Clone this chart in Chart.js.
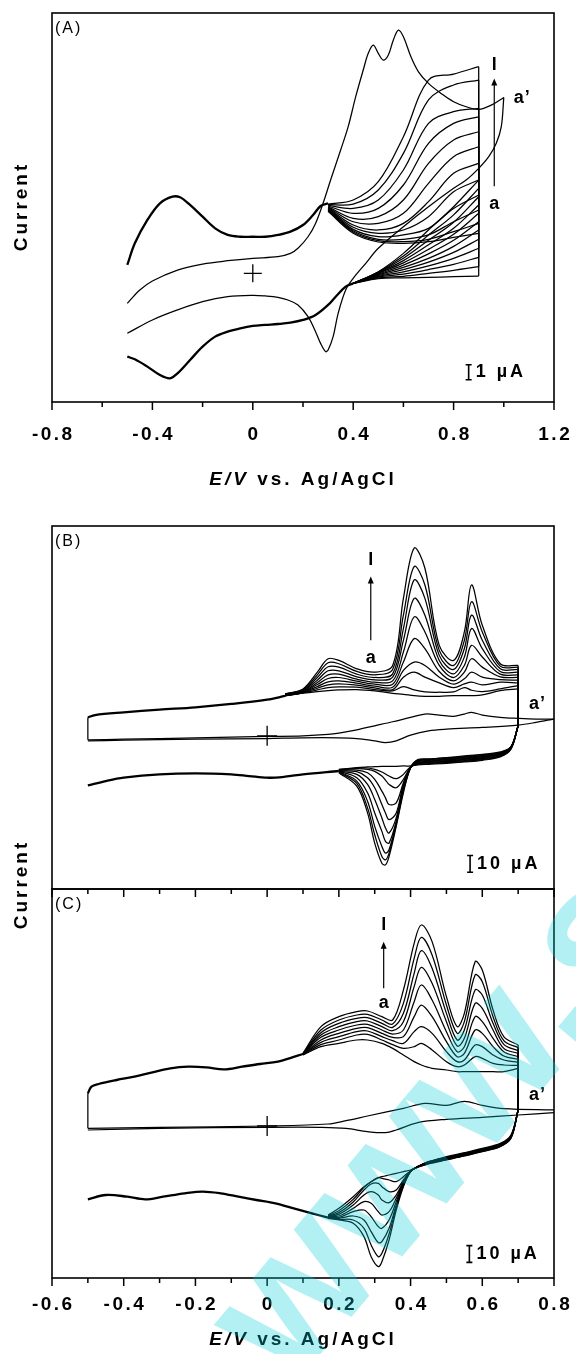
<!DOCTYPE html>
<html>
<head>
<meta charset="utf-8">
<script src="https://cdn.jsdelivr.net/npm/chart.js@4.4.1/dist/chart.umd.min.js"></script>
<style>
  body { margin: 0; background: #fff; }
  #page { position: relative; width: 576px; height: 1354px; overflow: hidden; background: #fff; }
  canvas { position: absolute; left: 0; }
</style>
</head>
<body>
<div id="page">
  <canvas id="chartA" width="576" height="490" style="top:0"></canvas>
  <canvas id="chartB" width="576" height="480" style="top:480px"></canvas>
  <canvas id="chartC" width="576" height="524" style="top:830px"></canvas>
</div>
<script>
// ---------- Panel A (E in V, current in µA) ----------
const aTickLabels = [-0.8, -0.4, 0, 0.4, 0.8, 1.2];
const aUpperV = [-0.5, -0.47, -0.42, -0.37, -0.32, -0.29, -0.25, -0.2, -0.15, -0.1, -0.05, 0, 0.05, 0.1, 0.15, 0.2, 0.24, 0.27, 0.3];
const aUpperI = [0.56, 2.0, 3.56, 4.67, 5.11, 5.07, 4.56, 3.78, 3.0, 2.56, 2.44, 2.44, 2.44, 2.56, 2.78, 3.22, 3.89, 4.49, 4.67];
const aFanV = [0.3, 0.4, 0.5, 0.6, 0.7, 0.8, 0.9];
// cycles a -> l, anodic scan
const aFanFwdI = [
  [4.13, 2.67, 2.09, 2.0, 2.11, 2.4, 2.67],
  [4.18, 2.76, 2.18, 2.11, 2.27, 2.78, 3.33],
  [4.22, 2.84, 2.27, 2.27, 2.56, 3.44, 4.22],
  [4.27, 2.93, 2.44, 2.56, 3.0, 4.33, 5.22],
  [4.31, 3.07, 2.67, 2.89, 3.78, 5.44, 6.22],
  [4.36, 3.22, 2.89, 3.33, 4.78, 6.67, 7.33],
  [4.4, 3.44, 3.33, 4.0, 6.0, 7.78, 8.44],
  [4.44, 3.67, 3.78, 4.89, 7.33, 8.89, 9.44],
  [4.49, 4.0, 4.33, 5.89, 8.67, 10.0, 10.44],
  [4.53, 4.33, 4.89, 6.89, 10.0, 10.78, 11.0],
  [4.58, 4.62, 5.56, 8.0, 11.56, 12.56, 12.89],
  [4.62, 4.89, 6.11, 9.11, 12.89, 13.29, 13.78]
];
const aFanRevV = [0.9, 0.8, 0.7, 0.6, 0.5, 0.4];
// cycles a -> l, cathodic scan
const aFanRevI = [
  [-0.18, -0.22, -0.27, -0.3, -0.35, -0.67],
  [0.44, 0.2, 0.0, -0.2, -0.3, -0.67],
  [1.07, 0.6, 0.25, -0.05, -0.25, -0.67],
  [1.67, 1.0, 0.5, 0.1, -0.2, -0.67],
  [2.27, 1.4, 0.75, 0.25, -0.15, -0.67],
  [2.89, 1.8, 1.0, 0.4, -0.1, -0.67],
  [3.44, 2.2, 1.3, 0.55, -0.05, -0.67],
  [4.0, 2.6, 1.6, 0.7, 0.0, -0.67],
  [4.56, 3.0, 1.9, 0.85, 0.03, -0.67],
  [5.11, 3.4, 2.2, 1.0, 0.06, -0.67],
  [5.67, 3.9, 2.55, 1.15, 0.09, -0.67],
  [6.22, 4.44, 2.89, 1.33, 0.11, -0.67]
];
const aLowerV = [0.4, 0.37, 0.33, 0.3, 0.25, 0.2, 0.15, 0.1, 0.05, 0, -0.05, -0.1, -0.15, -0.2, -0.25, -0.3, -0.33, -0.37, -0.42, -0.47, -0.5];
const aLowerI = [-0.67, -0.89, -1.56, -2.11, -2.78, -3.11, -3.29, -3.38, -3.44, -3.51, -3.67, -3.89, -4.22, -4.89, -5.78, -6.67, -7.0, -6.78, -6.22, -5.73, -5.56];
const aPrimeFwdV = [-0.5, -0.45, -0.4, -0.3, -0.2, -0.1, 0, 0.1, 0.15, 0.18, 0.22, 0.25, 0.28, 0.31, 0.35, 0.38, 0.41, 0.44, 0.46, 0.48, 0.5, 0.52, 0.54, 0.56, 0.58, 0.6, 0.63, 0.66, 0.7, 0.75, 0.8, 0.85, 0.9, 0.95, 1.0];
const aPrimeFwdI = [-2.0, -1.11, -0.51, 0.22, 0.62, 0.84, 1.0, 1.11, 1.33, 1.67, 2.44, 3.33, 4.67, 6.22, 8.22, 9.78, 11.78, 13.56, 14.67, 15.22, 14.67, 14.22, 14.56, 15.56, 16.22, 15.78, 14.44, 13.44, 12.67, 12.0, 11.44, 11.11, 10.93, 11.22, 11.73];
const aPrimeRevV = [1.0, 0.99, 0.97, 0.94, 0.9, 0.85, 0.8, 0.7, 0.6, 0.5, 0.45, 0.4, 0.37, 0.34, 0.32, 0.3, 0.29, 0.27, 0.25, 0.22, 0.18, 0.14, 0.1, 0.05, 0, -0.1, -0.2, -0.3, -0.4, -0.5];
const aPrimeRevI = [11.73, 9.78, 8.67, 7.78, 7.0, 6.22, 5.67, 4.44, 3.11, 1.67, 0.67, -0.33, -1.11, -2.67, -4.22, -5.11, -5.22, -4.67, -3.89, -2.89, -2.11, -1.78, -1.6, -1.51, -1.47, -1.56, -1.89, -2.44, -3.11, -4.0];

// ---------- Panel B ----------
const bcTickLabels = [-0.6, -0.4, -0.2, 0, 0.2, 0.4, 0.6, 0.8];
const bUpperV = [-0.5, -0.48, -0.4, -0.3, -0.2, -0.1, 0, 0.05];
const bUpperI = [11, 12.4, 14, 15.6, 17, 19, 21.6, 23.8];
const bFanV = [0.05, 0.1, 0.14, 0.17, 0.2, 0.25, 0.3, 0.35, 0.38, 0.41, 0.44, 0.48, 0.52, 0.55, 0.57, 0.6, 0.65, 0.7];
const bFanFwdI = [
  [23.8, 25.4, 26.4, 27, 27.4, 27.6, 26.8, 25.4, 24.8, 24, 23.6, 23.6, 24, 24, 24, 24.4, 27, 28],
  [23.8, 25.6, 27.4, 28.8, 29.2, 29, 27.6, 26.8, 29.4, 27.4, 26.2, 26, 26.2, 28.8, 27.2, 26.4, 28, 30],
  [24, 25.8, 28.4, 30.4, 31, 30.2, 28.6, 27.6, 35, 38, 35, 31.6, 28.8, 31, 32, 30.4, 32, 31.6],
  [24, 26, 29.4, 32.2, 32.8, 31.4, 29.6, 29, 39, 44, 42, 35, 30.8, 34, 38, 35, 33.6, 33.2],
  [24.2, 26.2, 30.6, 34.2, 34.8, 32.6, 30.8, 30.8, 44, 58, 52, 38.4, 32.8, 38, 46, 41, 35.2, 34.8],
  [24.4, 26.4, 31.8, 36.4, 36.8, 33.8, 32, 32.8, 50, 71, 62, 42, 34.8, 42, 54, 47, 36.8, 36.4],
  [24.6, 26.8, 33.2, 38.8, 38.8, 35.2, 33.4, 35, 57, 82, 72, 45, 37, 47, 64, 52, 38.4, 38],
  [24.8, 27.2, 34.8, 41.2, 41, 36.8, 34.8, 37, 64, 93, 82, 48, 39.6, 52, 72, 57, 40, 39.6],
  [25, 27.6, 36.4, 43.6, 43, 38.4, 36.4, 39.6, 72, 101, 90, 51, 42, 57, 80, 62, 41.6, 41],
  [25, 28, 38, 46, 45, 40, 38, 42, 82, 112, 100, 54, 45, 62, 90, 66, 43, 42]
];
const bFanRevV = [0.7, 0.68, 0.65, 0.6, 0.55, 0.5, 0.45, 0.42, 0.4, 0.38, 0.36, 0.34, 0.33, 0.32, 0.3, 0.28, 0.25, 0.2];
const bFanRevI = [
  [6, -8, -12.6, -14.6, -15.6, -16.4, -17, -17.4, -18, -18, -18.2, -18.2, -18.2, -18.2, -18.4, -18.6, -19, -20],
  [6, -7.6, -12.2, -14.2, -15.2, -16, -16.6, -17, -18.4, -23, -25.6, -24, -22.8, -21.6, -20, -19.2, -19.2, -20.2],
  [6, -7.4, -11.8, -13.8, -14.8, -15.6, -16.2, -16.6, -18.8, -26, -31, -29, -26.4, -24, -21.2, -20, -19.6, -20.4],
  [6, -7.2, -11.4, -13.4, -14.4, -15.2, -15.8, -16.2, -18.8, -28, -40, -41, -37, -33, -26, -22, -20.4, -20.6],
  [6, -7, -11, -13, -14, -14.8, -15.4, -15.8, -18.8, -29, -46, -50, -46, -41, -31, -25, -21.4, -20.8],
  [6, -6.8, -10.8, -12.6, -13.6, -14.4, -15, -15.4, -19, -30, -49, -58, -55, -49, -38, -29, -23, -21],
  [6, -6.8, -10.4, -12.2, -13.2, -14, -14.6, -15, -19, -31, -51, -64, -63, -57, -46, -34, -25, -21.2],
  [6, -6.6, -10.2, -11.8, -12.8, -13.6, -14.2, -14.6, -19, -32, -52, -68, -70, -66, -54, -39, -27, -21.4],
  [6, -6.6, -10, -11.4, -12.4, -13.2, -13.8, -14.2, -19, -33, -53, -70, -74, -72, -59, -43, -28.4, -21.6],
  [6, -6.4, -9.6, -11, -12, -13, -14, -14.6, -19, -34, -54, -72, -77, -76, -64, -46, -30, -22]
];
const bLowerV = [0.2, 0.1, 0.05, 0, -0.05, -0.1, -0.2, -0.3, -0.4, -0.45, -0.5];
const bLowerI = [-21, -23, -24.4, -25, -24, -23, -22.4, -23, -25, -27, -29.6];
const bPrimeFwdV = [-0.5, -0.4, -0.2, 0, 0.1, 0.17, 0.2, 0.25, 0.3, 0.35, 0.4, 0.44, 0.48, 0.52, 0.55, 0.57, 0.6, 0.65, 0.7, 0.75, 0.8];
const bPrimeFwdI = [-2.4, -2, -1.2, -0.4, 0, 0.8, 1.6, 3.6, 6, 8.4, 11, 13, 12.4, 11.6, 13, 14, 12.4, 11, 10.4, 10, 10];
const bPrimeRevV = [0.8, 0.75, 0.7, 0.6, 0.5, 0.45, 0.4, 0.36, 0.33, 0.3, 0.25, 0.2, 0.1, 0, -0.2, -0.4, -0.5];
const bPrimeRevI = [10, 8, 6.4, 5, 4, 3, 0.4, -3, -4, -3, -1.6, -1.2, -1.2, -1.6, -2, -2.6, -3];

// ---------- Panel C ----------
const cUpperV = [-0.5, -0.49, -0.47, -0.42, -0.37, -0.32, -0.27, -0.22, -0.17, -0.12, -0.07, -0.02, 0.03, 0.07, 0.1];
const cUpperI = [19.6, 23.6, 25.2, 27.6, 29.6, 32.2, 34.6, 35.6, 35.2, 34, 35.6, 37.2, 38.6, 41.2, 43.2];
const cFanV = [0.1, 0.15, 0.2, 0.25, 0.28, 0.32, 0.35, 0.38, 0.41, 0.43, 0.46, 0.5, 0.53, 0.55, 0.58, 0.6, 0.63, 0.66, 0.7];
const cFanFwdI = [
  [42.6, 47.6, 49.6, 51.6, 51.6, 49.6, 46.6, 42.6, 38.6, 36.6, 34.6, 33.6, 32.6, 32.6, 32.6, 32.6, 32.6, 32.6, 34.6],
  [42.8, 48.8, 51.6, 54.6, 55, 51.6, 48.8, 46.6, 47.6, 49.6, 45.6, 38.6, 35.6, 36.6, 41.6, 40.6, 37.6, 36.6, 36.4],
  [43, 50.2, 53.6, 56.6, 57, 53.6, 51.2, 49.6, 56.6, 59.6, 55.6, 44.6, 38.6, 39.6, 48.6, 47.6, 42.6, 39.6, 38.2],
  [43, 51.6, 55.6, 58.6, 59, 55.6, 53.2, 53.6, 65.6, 72.6, 65.6, 50.6, 41.6, 43.6, 57.6, 55.6, 47.6, 42, 40],
  [43.2, 53.2, 57.6, 60.6, 61, 57.6, 55.2, 57.6, 74.6, 84.6, 75.6, 56.6, 44.6, 47.6, 65.6, 62.6, 52.6, 44.6, 41.6],
  [43.2, 54.6, 59.6, 62.6, 63, 59.6, 57.2, 62.6, 83.6, 95.2, 85.6, 62.6, 48, 52.6, 73.6, 70.6, 57.6, 46.6, 43.6],
  [43.4, 56, 61.6, 64.6, 65, 61.6, 59.2, 67.6, 91.6, 105.2, 94.6, 67.6, 51.6, 57.6, 81.6, 78.6, 61.6, 49, 45.2],
  [43.4, 57.6, 63.6, 66.6, 67, 63.6, 61.2, 73.6, 100.6, 113.2, 102.6, 72.6, 55.6, 62.6, 90.6, 86.6, 65.6, 51.2, 47],
  [43.6, 59.6, 65.6, 68.6, 69, 65.6, 63.6, 81.6, 109.6, 120.6, 110.6, 77.6, 59.6, 67.6, 98.6, 93.6, 69.6, 53.6, 48.6]
];
const cFanRevV = [0.7, 0.68, 0.65, 0.6, 0.55, 0.5, 0.45, 0.42, 0.4, 0.38, 0.36, 0.34, 0.32, 0.31, 0.29, 0.27, 0.24, 0.2, 0.17];
const cFanRevI = [
  [9.6, -7.4, -12.4, -15.4, -18, -20.4, -22.8, -24.8, -26.4, -27.4, -28.4, -29.4, -30.4, -31, -33.4, -36.4, -42.4, -49.4, -53.4],
  [9.6, -7.2, -12.2, -15.2, -17.8, -20.2, -22.6, -24.6, -26.8, -30.4, -33.4, -32.4, -31.4, -31, -33.4, -36.8, -44, -50.8, -53.8],
  [9.6, -7, -12, -15, -17.6, -20, -22.4, -24.4, -27, -32.4, -38.4, -39.4, -36.4, -34.4, -34.8, -38.4, -45.6, -52, -54],
  [9.6, -6.8, -11.8, -14.8, -17.4, -19.8, -22.2, -24.4, -27, -33.4, -41.4, -46, -44.4, -41.4, -39.4, -41.4, -47.4, -53, -54.2],
  [9.6, -6.6, -11.6, -14.6, -17.2, -19.6, -22, -24.4, -27.2, -34, -43.4, -51.4, -53.4, -51.4, -46.4, -45.4, -49.4, -54, -54.4],
  [9.6, -6.4, -11.4, -14.4, -17, -19.4, -21.8, -24.4, -27.2, -34.4, -45.4, -56.4, -61.4, -60.4, -54.4, -50.4, -51.4, -54.8, -54.6],
  [9.6, -6, -11, -14, -16.6, -19, -21.6, -24.4, -27.4, -35.2, -47.4, -61.4, -69.4, -70, -63.4, -56.4, -54, -55.4, -54.8],
  [9.6, -5.8, -10.8, -13.8, -16.4, -18.8, -21.4, -24.4, -27.4, -35.8, -48.8, -64.8, -76.4, -78.4, -71.4, -61.4, -56.4, -56, -55.2],
  [9.6, -5.4, -10.4, -13.4, -16, -18.4, -21.4, -24.4, -27.4, -36.4, -50.4, -68.4, -81.4, -84.4, -78.4, -66.4, -58.4, -56.4, -55.4]
];
const cLowerV = [0.17, 0.125, 0.074, 0.023, -0.03, -0.08, -0.13, -0.18, -0.23, -0.29, -0.34, -0.39, -0.45, -0.5];
const cLowerI = [-55, -52.4, -49.4, -46.4, -44.4, -42.4, -40.4, -39.4, -40.4, -42.4, -44, -42.4, -41.4, -44];
const cPrimeFwdV = [-0.5, -0.3, 0, 0.17, 0.22, 0.28, 0.38, 0.44, 0.5, 0.55, 0.6, 0.66, 0.8];
const cPrimeFwdI = [-1.4, -0.8, 0, 1.2, 3.2, 6, 10.6, 13.6, 12.4, 14.8, 12.4, 10.4, 9.6];
const cPrimeRevV = [0.8, 0.7, 0.6, 0.5, 0.42, 0.36, 0.33, 0.28, 0.22, 0.15, 0, -0.3, -0.5];
const cPrimeRevI = [8, 6.6, 5.2, 4, 2, -2.4, -4, -3.4, -1.4, -0.8, -0.8, -1.4, -2.4];

const FONT = '"Liberation Sans", Arial, sans-serif';

function pts(xs, ys) {
  return xs.map((x, i) => ({ x: x, y: ys[i] }));
}
function curve(xs, ys, w) {
  return { data: pts(xs, ys), borderColor: "#000", borderWidth: w || 1.25, pointRadius: 0, tension: 0.35 };
}
function drop(x, y1, y2) {
  return { data: [{ x: x, y: y1 }, { x: x, y: y2 }], borderColor: "#000", borderWidth: 1.25, pointRadius: 0, tension: 0 };
}

// one voltammogram family: common branches + one loop per cycle + the a' trace
function buildCV(p) {
  const ds = [curve(p.upperV, p.upperI, 2.3)];
  p.fwdI.forEach((row, k) => {
    ds.push(curve(p.fwdV, row));
    ds.push(drop(p.fwdV[p.fwdV.length - 1], row[row.length - 1], p.revI[k][0]));
    ds.push(curve(p.revV, p.revI[k]));
  });
  ds.push(curve(p.lowerV, p.lowerI, 2.3));
  ds.push(curve(p.primeFwdV, p.primeFwdI));
  ds.push(curve(p.primeRevV, p.primeRevI));
  if (p.leftEdge) ds.push(drop(p.upperV[0], p.primeFwdI[0], p.upperI[0]));
  return ds;
}

function txt(ctx, s, x, y, font, align, spacing) {
  ctx.font = font;
  ctx.letterSpacing = (spacing || 0) + "px";
  ctx.textAlign = align || "center";
  ctx.textBaseline = "middle";
  const shift = (align || "center") === "center" ? (spacing || 0) / 2 : 0;
  ctx.fillText(s, x + shift, y);
}

// frame, ticks, labels and annotations
function decor(cfg) {
  return {
    id: "decor",
    afterDraw(chart) {
      const { ctx, chartArea: ca, scales } = chart;
      const X = (v) => scales.x.getPixelForValue(v);
      const Y = (v) => scales.y.getPixelForValue(v);
      ctx.save();
      ctx.strokeStyle = "#000";
      ctx.fillStyle = "#000";
      ctx.lineWidth = 1.6;
      ctx.strokeRect(ca.left, ca.top, ca.right - ca.left, ca.bottom - ca.top);

      // tick marks
      if (cfg.bottomTicks || cfg.topTicks) {
        ctx.lineWidth = 1.5;
        for (let k = 0; ; k++) {
          const v = cfg.xMin + k * cfg.tickStep;
          if (v > cfg.xMax + 1e-6) break;
          const r = Math.round(v * 10) / 10;
          const len = cfg.tickLabels.includes(r) ? 8 : 5;
          const px = X(v);
          ctx.beginPath();
          if (cfg.bottomTicks) { ctx.moveTo(px, ca.bottom); ctx.lineTo(px, ca.bottom + len); }
          if (cfg.topTicks) { ctx.moveTo(px, ca.top); ctx.lineTo(px, ca.top + len); }
          ctx.stroke();
        }
      }
      // tick labels + axis title
      if (cfg.labelY) {
        cfg.tickLabels.forEach((v) => {
          txt(ctx, v === 0 ? "0" : v.toFixed(1), X(v), cfg.labelY, "bold 19px " + FONT, "center", 2.5);
        });
        const cx = (ca.left + ca.right) / 2;
        ctx.letterSpacing = "3px";
        ctx.font = "italic bold 19px " + FONT;
        const w1 = ctx.measureText("E/V").width;
        ctx.font = "bold 19px " + FONT;
        const w2 = ctx.measureText(" vs. Ag/AgCl").width;
        const x0 = cx - (w1 + w2) / 2;
        txt(ctx, "E/V", x0, cfg.titleY, "italic bold 19px " + FONT, "left", 3);
        txt(ctx, " vs. Ag/AgCl", x0 + w1, cfg.titleY, "bold 19px " + FONT, "left", 3);
      }
      if (cfg.yTitleY) {
        ctx.save();
        ctx.translate(22, cfg.yTitleY);
        ctx.rotate(-Math.PI / 2);
        txt(ctx, "Current", 0, 0, "bold 19px " + FONT, "center", 3);
        ctx.restore();
      }

      // panel letter
      txt(ctx, cfg.panel, ca.left + 3, ca.top + 16, "16px " + FONT, "left", 2);

      // cycle labels and arrow
      txt(ctx, "l", X(cfg.arrowX), Y(cfg.lY), "bold 18px " + FONT, "center", 0);
      txt(ctx, "a", X(cfg.arrowX), Y(cfg.aY), "bold 18px " + FONT, "center", 0);
      txt(ctx, "a\u2019", X(cfg.primeX), Y(cfg.primeY), "bold 18px " + FONT, "left", 1);
      const ax = X(cfg.arrowX), ah = Y(cfg.arrowTop), at = Y(cfg.arrowBottom);
      ctx.lineWidth = 1.2;
      ctx.beginPath(); ctx.moveTo(ax, at); ctx.lineTo(ax, ah + 5); ctx.stroke();
      ctx.beginPath(); ctx.moveTo(ax, ah); ctx.lineTo(ax - 3, ah + 7); ctx.lineTo(ax + 3, ah + 7); ctx.closePath(); ctx.fill();

      // origin cross
      const ox = X(0), oy = Y(0);
      ctx.lineWidth = 1.3;
      ctx.beginPath();
      ctx.moveTo(ox - cfg.cross, oy); ctx.lineTo(ox + cfg.cross, oy);
      ctx.moveTo(ox, oy - cfg.cross); ctx.lineTo(ox, oy + cfg.cross);
      ctx.stroke();

      // current scale bar
      const bx = X(cfg.barX), b1 = Y(cfg.barTop), b2 = Y(cfg.barBottom);
      ctx.lineWidth = 1.6;
      ctx.beginPath();
      ctx.moveTo(bx, b1); ctx.lineTo(bx, b2);
      ctx.moveTo(bx - 3, b1); ctx.lineTo(bx + 3, b1);
      ctx.moveTo(bx - 3, b2); ctx.lineTo(bx + 3, b2);
      ctx.stroke();
      txt(ctx, cfg.barText, bx + 7, (b1 + b2) / 2, "bold 18px " + FONT, "left", 3);

      // watermark over panel C
      if (cfg.watermark) {
        ctx.save();
        ctx.globalAlpha = 0.3;
        ctx.fillStyle = "rgb(0,205,215)";
        ctx.translate(291, 1389 - 830);
        ctx.rotate(-50 * Math.PI / 180);
        ctx.font = "bold 190px " + FONT;
        ctx.letterSpacing = "0px";
        ctx.textAlign = "left";
        ctx.textBaseline = "alphabetic";
        ctx.fillText("www.sp", 0, 0);
        ctx.restore();
      }
      ctx.restore();
    }
  };
}

function makeChart(id, datasets, xMin, xMax, yMin, yMax, pad, cfg) {
  cfg.xMin = xMin; cfg.xMax = xMax;
  return new Chart(document.getElementById(id), {
    type: "line",
    data: { datasets: datasets },
    options: {
      responsive: false,
      animation: false,
      events: [],
      layout: { padding: pad },
      plugins: { legend: { display: false }, tooltip: { enabled: false } },
      scales: {
        x: { type: "linear", min: xMin, max: xMax, display: false },
        y: { type: "linear", min: yMin, max: yMax, display: false }
      }
    },
    plugins: [decor(cfg)]
  });
}

makeChart("chartA", buildCV({
  upperV: aUpperV, upperI: aUpperI, fwdV: aFanV, fwdI: aFanFwdI, revV: aFanRevV, revI: aFanRevI,
  lowerV: aLowerV, lowerI: aLowerI, primeFwdV: aPrimeFwdV, primeFwdI: aPrimeFwdI,
  primeRevV: aPrimeRevV, primeRevI: aPrimeRevI, leftEdge: false
}), -0.8, 1.2, -8.58, 17.36, { left: 52, right: 22, top: 13, bottom: 88 }, {
  panel: "(A)", tickStep: 0.2, tickLabels: aTickLabels, bottomTicks: true, labelY: 435, titleY: 480,
  yTitleY: 208, arrowX: 0.962, lY: 13.9, aY: 4.62, arrowTop: 13.0, arrowBottom: 5.8,
  primeX: 1.04, primeY: 11.67, cross: 9, barX: 0.86, barTop: -6.1, barBottom: -7.1, barText: "1 \u00b5A"
});

makeChart("chartB", buildCV({
  upperV: bUpperV, upperI: bUpperI, fwdV: bFanV, fwdI: bFanFwdI, revV: bFanRevV, revI: bFanRevI,
  lowerV: bLowerV, lowerI: bLowerI, primeFwdV: bPrimeFwdV, primeFwdI: bPrimeFwdI,
  primeRevV: bPrimeRevV, primeRevI: bPrimeRevI, leftEdge: true
}), -0.6, 0.8, -91.4, 125.2, { left: 52, right: 22, top: 46, bottom: 71 }, {
  panel: "(B)", tickStep: 0.1, tickLabels: bcTickLabels, yTitleY: 406,
  arrowX: 0.289, lY: 104.6, aY: 46.6, arrowTop: 95, arrowBottom: 57,
  primeX: 0.73, primeY: 19, cross: 10, barX: 0.566, barTop: -71.4, barBottom: -81.4, barText: "10 \u00b5A"
});

makeChart("chartC", buildCV({
  upperV: cUpperV, upperI: cUpperI, fwdV: cFanV, fwdI: cFanFwdI, revV: cFanRevV, revI: cFanRevI,
  lowerV: cLowerV, lowerI: cLowerI, primeFwdV: cPrimeFwdV, primeFwdI: cPrimeFwdI,
  primeRevV: cPrimeRevV, primeRevI: cPrimeRevI, leftEdge: true
}), -0.6, 0.8, -91.2, 142.2, { left: 52, right: 22, top: 59, bottom: 76 }, {
  panel: "(C)", tickStep: 0.1, tickLabels: bcTickLabels, bottomTicks: true, topTicks: true,
  labelY: 475, titleY: 510, arrowX: 0.325, lY: 120.6, aY: 73.6, arrowTop: 110.5, arrowBottom: 82.6,
  primeX: 0.73, primeY: 18.6, cross: 10, barX: 0.564, barTop: -71.8, barBottom: -81.8, barText: "10 \u00b5A",
  watermark: true
});
</script>
</body>
</html>
